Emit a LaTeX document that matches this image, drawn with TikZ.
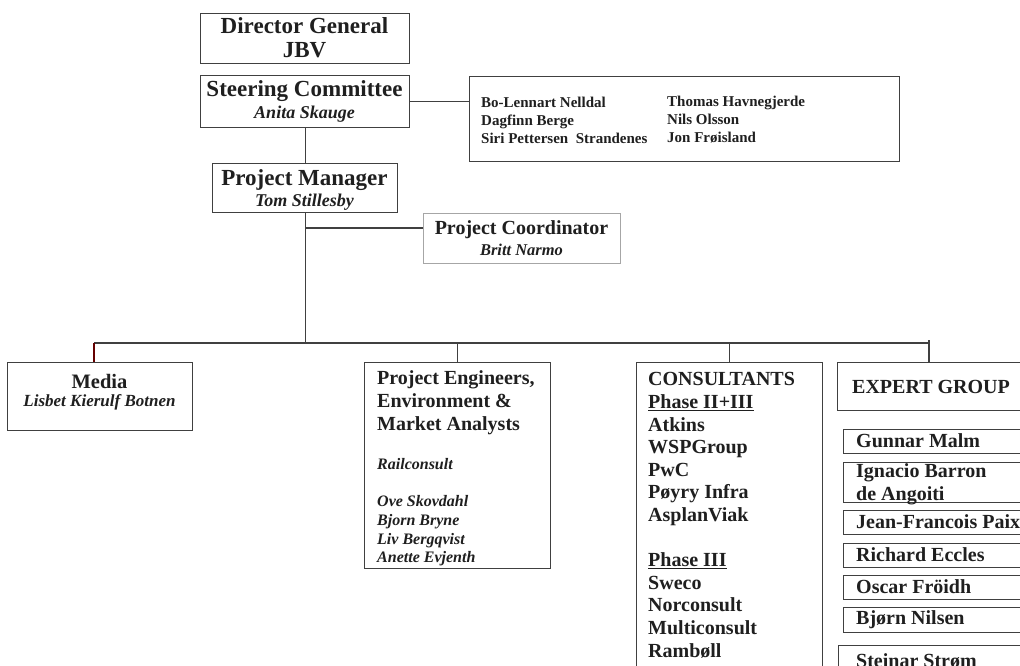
\documentclass[tikz,border=0pt]{standalone}
\usepackage{fontspec}
\setmainfont{Liberation Serif}
\usetikzlibrary{calc}
\newcommand\fsz[2]{\fontsize{#1}{#2}\selectfont}
\begin{document}
\begin{tikzpicture}[x=1pt,y=-1pt,
  box/.style={draw=black!75,line width=1.3pt,inner sep=0pt,anchor=north west},
  ln/.style={draw=black!75,line width=1.2pt},
  txt/.style={inner sep=0pt,text=black!88,font=\bfseries},
  itx/.style={inner sep=0pt,text=black!88,font=\bfseries\itshape},
]
\clip (0,0) rectangle (1020,666);
\fill[white] (0,0) rectangle (1020,666);

% top boxes
\node[box,minimum width=209pt,minimum height=50pt] (dg) at (200,13) {};
\node[txt,font=\bfseries\fsz{23}{24}] (dgt1) at (304.5,26) {Director General};
\node[txt,font=\bfseries\fsz{23}{24}] (dgt2) at (304.5,50) {JBV};

\node[box,minimum width=209pt,minimum height=52pt] (st) at (200,75) {};
\node[txt,font=\bfseries\fsz{23}{24}] (stt1) at (304.5,91) {Steering Committee};
\node[itx,font=\bfseries\itshape\fsz{18}{20}] (stt2) at (304.5,114) {Anita Skauge};

\node[box,minimum width=185pt,minimum height=49pt] (pm) at (212,163) {};
\node[txt,font=\bfseries\fsz{23}{24}] (pmt1) at (304.5,180) {Project Manager};
\node[itx,font=\bfseries\itshape\fsz{18}{20}] (pmt2) at (304.5,202) {Tom Stillesby};

\node[box,minimum width=430pt,minimum height=85pt] (mem) at (469,76) {};
\node[txt,font=\bfseries\fsz{15}{18},anchor=west,align=left] (mem1) at (481,120) {Bo-Lennart Nelldal\\Dagfinn Berge\\Siri Pettersen\ \ Strandenes};
\node[txt,font=\bfseries\fsz{15}{18},anchor=west,align=left] (mem2) at (667,120) {Thomas Havnegjerde\\Nils Olsson\\Jon Frøisland};

\node[box,draw=black!35,line width=1pt,minimum width=197pt,minimum height=50pt] (co) at (423,213) {};
\node[txt,font=\bfseries\fsz{20}{22}] (cot1) at (521.5,230) {Project Coordinator};
\node[itx,font=\bfseries\itshape\fsz{16.5}{18}] (cot2) at (521.5,250) {Britt Narmo};

% bottom row
\node[box,minimum width=185pt,minimum height=68pt] (media) at (7,362) {};
\node[txt,font=\bfseries\fsz{20.5}{22}] (mdt1) at (99.5,381) {Media};
\node[itx,font=\bfseries\itshape\fsz{17}{18}] (mdt2) at (99.5,402) {Lisbet Kierulf Botnen};

\node[box,minimum width=186pt,minimum height=206pt] (pe) at (364,362) {};
\node[txt,font=\bfseries\fsz{20}{23},anchor=west,align=left] (pet1) at (377,403) {Project Engineers,\\Environment \&\\Market Analysts};
\node[itx,font=\bfseries\itshape\fsz{16}{18.7},anchor=west] (pet2) at (377,464) {Railconsult};
\node[itx,font=\bfseries\itshape\fsz{16}{18.7},anchor=west,align=left] (pet3) at (377,531) {Ove Skovdahl\\Bjorn Bryne\\Liv Bergqvist\\Anette Evjenth};

\node[box,minimum width=186pt,minimum height=330pt] (cons) at (636,362) {};
\node[txt,font=\bfseries\fsz{20}{22.6},anchor=north west,align=left] (cont) at (648,372.5) {CONSULTANTS\\\underline{Phase II+III}\\Atkins\\WSPGroup\\PwC\\Pøyry Infra\\AsplanViak\\[22.6pt]\underline{Phase III}\\Sweco\\Norconsult\\Multiconsult\\Rambøll};

\node[box,minimum width=200pt,minimum height=48pt] (eg) at (837,362) {};
\node[txt,font=\bfseries\fsz{20}{22},anchor=west] (egt) at (852,387) {EXPERT GROUP};

\tikzset{et/.style={txt,font=\bfseries\fsz{20}{23},anchor=west,align=left}}
\node[box,minimum width=190pt,minimum height=24pt] (e1) at (843,429) {};
\node[et] (e1t) at (856,441) {Gunnar Malm};
\node[box,minimum width=190pt,minimum height=40pt] (e2) at (843,462) {};
\node[et] (e2t) at (856,484) {Ignacio Barron\\de Angoiti};
\node[box,minimum width=190pt,minimum height=24pt] (e3) at (843,510) {};
\node[et] (e3t) at (856,522) {Jean-Francois Paix};
\node[box,minimum width=190pt,minimum height=24pt] (e4) at (843,543) {};
\node[et] (e4t) at (856,555) {Richard Eccles};
\node[box,minimum width=190pt,minimum height=24pt] (e5) at (843,575) {};
\node[et] (e5t) at (856,587) {Oscar Fröidh};
\node[box,minimum width=190pt,minimum height=25pt] (e6) at (843,607) {};
\node[et] (e6t) at (856,619.5) {Bjørn Nilsen};
\node[box,minimum width=195pt,minimum height=45pt] (e7) at (838,645) {};
\node[et] (e7t) at (856,661) {Steinar Strøm};

% connectors
\draw[ln] (st.south) -- (pm.north);
\draw[ln] (st.east) -- (st.east -| mem.west);
\coordinate (bl) at (94,343);
\coordinate (br) at (929,343);
\coordinate (coin) at ($(co.north west)+(0,15)$);
\draw[ln] (pm.south) -- (pm.south |- bl);
\draw[ln] (coin -| pm.south) -- (coin);
\draw[ln] (bl) -- (br);
\draw[ln,draw=red!40!black] (bl) -- (bl |- media.north);
\draw[ln] (pe.north |- bl) -- (pe.north);
\draw[ln] (cons.north |- bl) -- (cons.north);
\draw[ln] ($(br)+(0,-3)$) -- (br |- eg.north);
\end{tikzpicture}
\end{document}
